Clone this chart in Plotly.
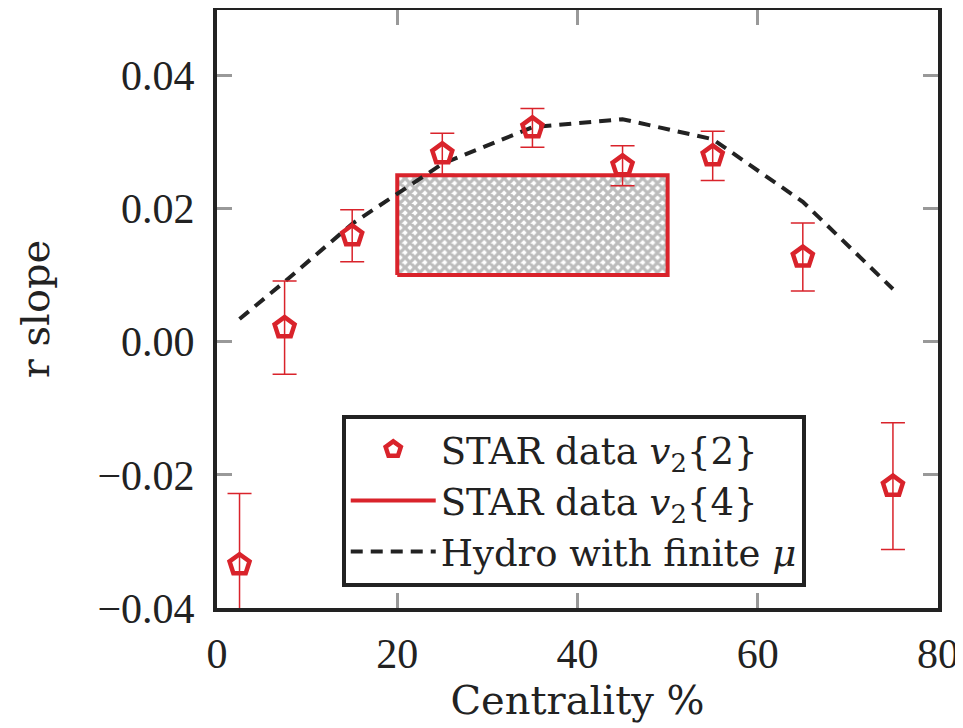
import plotly.graph_objects as go

# ---- data ----
centrality = [2.5, 7.5, 15, 25, 35, 45, 55, 65, 75]
v2_2_slope = [-0.0335, 0.0021, 0.0159, 0.0282, 0.0321, 0.0264, 0.0279, 0.0127, -0.0217]
v2_2_err = [0.0107, 0.0070, 0.0039, 0.0031, 0.0029, 0.0030, 0.0037, 0.0051, 0.0095]

hydro_x = [2.5, 7.5, 15, 25, 35, 45, 55, 65, 75]
hydro_y = [0.0034, 0.0090, 0.0177, 0.0267, 0.0322, 0.0334, 0.0304, 0.0210, 0.0079]

v2_4_cent = [20, 50]
v2_4_slope = [0.010, 0.025]

x_ticks = [0, 20, 40, 60, 80]
x_ticktext = ["0", "20", "40", "60", "80"]
y_ticks = [-0.04, -0.02, 0.00, 0.02, 0.04]
y_ticktext = ["\u22120.04", "\u22120.02", "0.00", "0.02", "0.04"]

RED = "#d9232b"
DARK = "#222222"
TICKC = "#999999"

fig = go.Figure()

# v2{4} band (hatched rectangle)
bx = [v2_4_cent[0], v2_4_cent[1], v2_4_cent[1], v2_4_cent[0], v2_4_cent[0]]
by = [v2_4_slope[0], v2_4_slope[0], v2_4_slope[1], v2_4_slope[1], v2_4_slope[0]]
fig.add_trace(go.Scatter(
    x=bx, y=by, mode="lines", fill="toself",
    fillcolor="white",
    fillpattern=dict(shape="x", fgcolor="#7a7a7a", bgcolor="white", size=7, solidity=0.7),
    line=dict(color=RED, width=4), showlegend=False, hoverinfo="skip"))

# Hydro line
fig.add_trace(go.Scatter(
    x=hydro_x, y=hydro_y, mode="lines",
    line=dict(color=DARK, width=4, dash="12px,8px"),
    name="Hydro with finite <i>\u03bc</i>", legendrank=3))

# STAR v2{2}
fig.add_trace(go.Scatter(
    x=centrality, y=v2_2_slope, mode="markers",
    marker=dict(symbol="pentagon-open", size=21, color=RED, line=dict(width=4.5, color=RED)),
    error_y=dict(type="data", array=v2_2_err, color=RED, thickness=1.5, width=12),
    name="STAR data <i>v</i><sub>2</sub>{2}", legendrank=1))

# legend proxy for v2{4}
fig.add_trace(go.Scatter(
    x=[None], y=[None], mode="lines", line=dict(color=RED, width=4),
    name="STAR data <i>v</i><sub>2</sub>{4}", legendrank=2))

axis_common = dict(
    showgrid=False, zeroline=False,
    showline=True, linewidth=4, linecolor=DARK, mirror="ticks",
    ticks="inside", ticklen=15, tickwidth=3, tickcolor=TICKC,
    tickfont=dict(family="Liberation Serif", size=42, color=DARK),
)

fig.update_xaxes(
    range=[0, 80], tickvals=x_ticks, ticktext=x_ticktext,
    title=dict(text="Centrality %", font=dict(family="DejaVu Serif", size=40, color=DARK), standoff=8),
    ticklabelstandoff=6,
    **axis_common)
fig.update_yaxes(
    range=[-0.04, 0.0498], tickvals=y_ticks, ticktext=y_ticktext,
    title=dict(text="r slope", font=dict(family="DejaVu Serif", size=40, color=DARK), standoff=36),
    ticklabelstandoff=10,
    **axis_common)

# page body has an 8px default margin, so the figure is shrunk and shifted accordingly
fig.update_layout(
    width=955, height=720,
    margin=dict(l=209, r=25, t=2, b=120, autoexpand=False),
    paper_bgcolor="white", plot_bgcolor="white",
    showlegend=True,
    legend=dict(
        x=0.173, y=0.323, xanchor="left", yanchor="top",
        bgcolor="white", bordercolor=DARK, borderwidth=4,
        font=dict(family="DejaVu Serif", size=37, color=DARK),
        traceorder="normal", itemwidth=85,
    ),
)

fig.write_html("out.html")
